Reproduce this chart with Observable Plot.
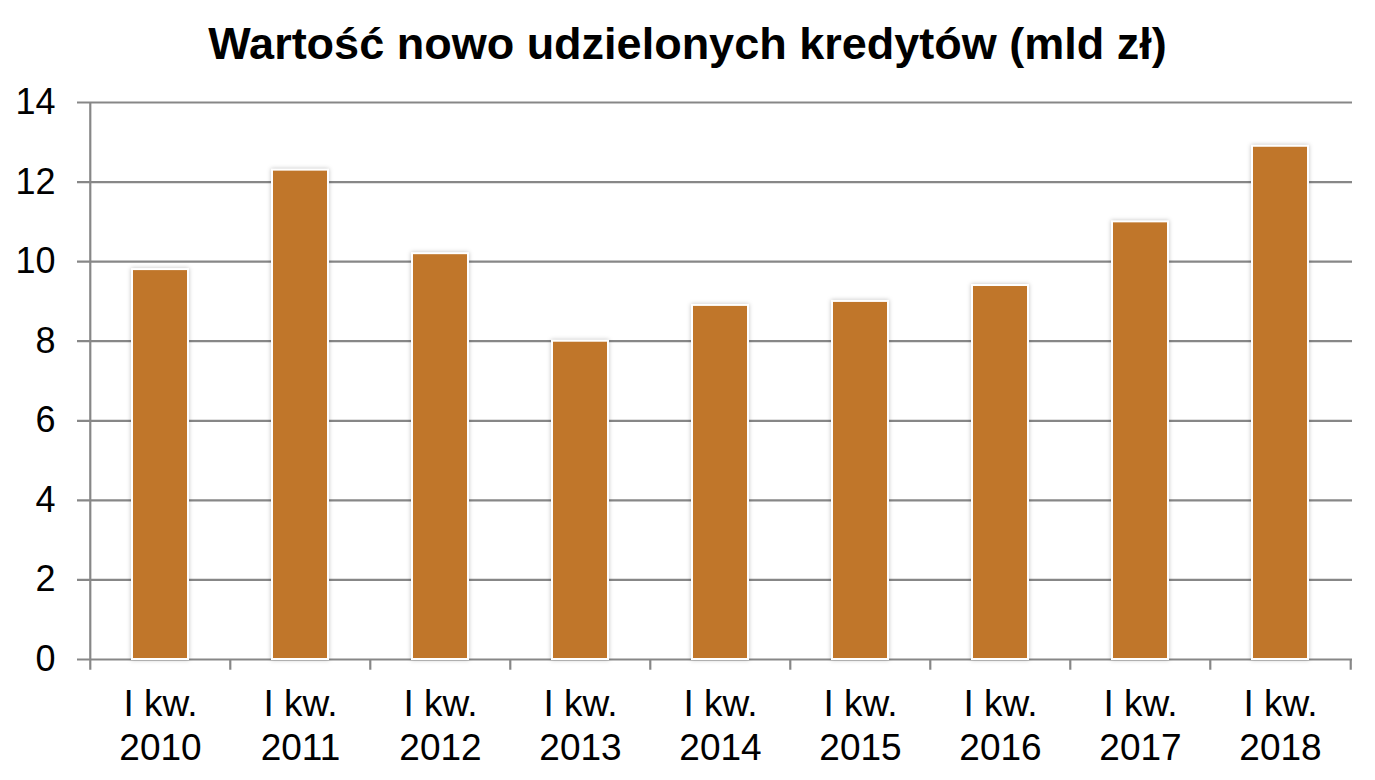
<!DOCTYPE html>
<html>
<head>
<meta charset="utf-8">
<script src="https://cdn.jsdelivr.net/npm/d3@7"></script>
<script src="https://cdn.jsdelivr.net/npm/@observablehq/plot@0.6"></script>
<style>
  html, body { margin: 0; padding: 0; background: #fff; }
  body { width: 1375px; height: 780px; overflow: hidden; font-family: "Liberation Sans", Arial, sans-serif; }
  #title { height: 90px; box-sizing: border-box; padding-top: 18px; text-align: center; font-weight: bold; font-size: 45px; line-height: 52px; color: #000; }
  #chart svg { display: block; }
</style>
</head>
<body>
<div id="title">Wartość nowo udzielonych kredytów (mld zł)</div>
<div id="chart"></div>
<script>
const categories = ["2010", "2011", "2012", "2013", "2014", "2015", "2016", "2017", "2018"];
const values = [9.8, 12.3, 10.2, 8.0, 8.9, 9.0, 9.4, 11.0, 12.9];
const yTicks = [0, 2, 4, 6, 8, 10, 12, 14];
const labelPrefix = "I kw.";

const data = categories.map((c, i) => ({year: c, value: values[i]}));

const width = 1375, height = 690;
const marginLeft = 88, marginRight = 23, marginTop = 12, marginBottom = 121;
const step = (width - marginLeft - marginRight) / categories.length;
const gridColor = "#878787";

const chart = Plot.plot({
  width, height, marginLeft, marginRight, marginTop, marginBottom,
  style: {fontFamily: "'Liberation Sans', Arial, sans-serif", background: "white", overflow: "visible"},
  x: {domain: categories, paddingInner: 0.6, paddingOuter: 0.3, axis: null},
  y: {domain: [0, 14], axis: null},
  marks: [
    Plot.ruleY(yTicks, {y: d => d, stroke: gridColor, strokeWidth: 2.2, insetLeft: -11}),
    Plot.text(yTicks, {y: d => d, frameAnchor: "left", dx: -33, textAnchor: "end", text: d => String(d), fontSize: 36, fill: "#000"}),
    Plot.barY(data, {x: "year", y: "value", fill: "#C0762A", stroke: "white", strokeWidth: 2}),
    Plot.ruleX([categories[0]], {x: d => d, dx: -step / 2, y1: -0.27, y2: 14, stroke: gridColor, strokeWidth: 2.2}),
    Plot.ruleX(categories.slice(1), {x: d => d, dx: -step / 2, y1: -0.27, y2: 0, stroke: gridColor, strokeWidth: 2.2}),
    Plot.ruleX([categories[categories.length - 1]], {x: d => d, dx: step / 2, y1: -0.27, y2: 0, stroke: gridColor, strokeWidth: 2.2}),
    Plot.text(data, {x: "year", y: 0, text: d => labelPrefix + "\n" + d.year, lineAnchor: "top", dy: 25, lineHeight: 1.2, fontSize: 37, fill: "#000"})
  ]
});

document.getElementById("chart").appendChild(chart);
d3.select(chart).selectAll("g[aria-label='bar'] rect").style("filter", "drop-shadow(0px 0px 2px rgba(0,0,0,0.25))");
</script>
</body>
</html>
